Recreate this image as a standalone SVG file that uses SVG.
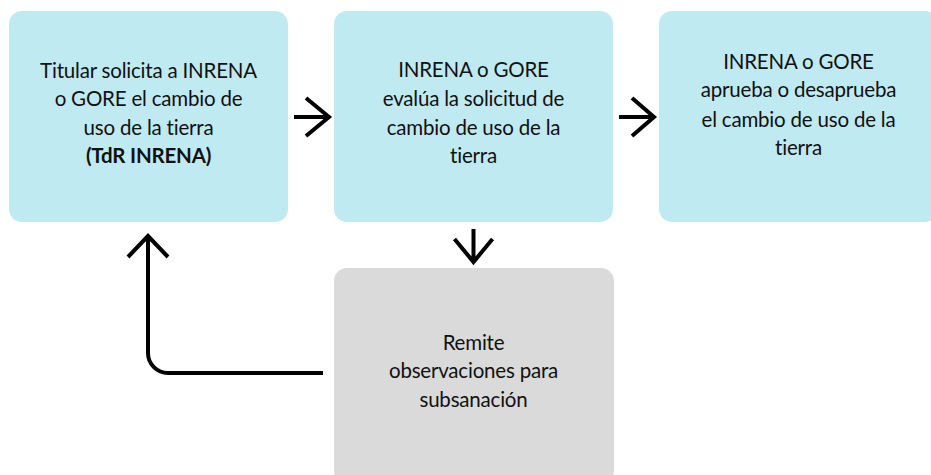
<svg xmlns="http://www.w3.org/2000/svg" width="931" height="475" viewBox="0 0 931 475">
<style>
.box{fill:#c0eaf1}
.grey{fill:#dadada}
.t{font-family:Lato,"Liberation Sans",sans-serif;font-size:20.5px;fill:#111;text-anchor:middle;letter-spacing:-0.2px}
.b{font-weight:bold}
.c{fill:none;stroke:#000;stroke-width:4;stroke-linecap:butt;stroke-linejoin:miter}
</style>
<rect width="931" height="475" fill="#fff"/>
<g id="n1">
<rect class="box" x="9" y="11" width="279" height="211" rx="13"/>
<text class="t" x="148.5" y="78">Titular solicita a INRENA</text>
<text class="t" x="148.5" y="106">o GORE el cambio de</text>
<text class="t" x="148.5" y="135">uso de la tierra</text>
<text class="t b" x="148.5" y="163">(TdR INRENA)</text>
</g>
<g id="n2">
<rect class="box" x="334" y="11" width="279" height="211" rx="13"/>
<text class="t" x="473.5" y="77">INRENA o GORE</text>
<text class="t" x="473.5" y="106">evalúa la solicitud de</text>
<text class="t" x="473.5" y="135">cambio de uso de la</text>
<text class="t" x="473.5" y="163">tierra</text>
</g>
<g id="n3">
<rect class="box" x="659" y="11" width="279" height="211" rx="13"/>
<text class="t" x="798.5" y="69">INRENA o GORE</text>
<text class="t" x="798.5" y="97">aprueba o desaprueba</text>
<text class="t" x="798.5" y="127">el cambio de uso de la</text>
<text class="t" x="798.5" y="155">tierra</text>
</g>
<g id="n4">
<rect class="grey" x="334" y="268" width="280" height="216" rx="13"/>
<text class="t" x="473.5" y="350">Remite</text>
<text class="t" x="473.5" y="378">observaciones para</text>
<text class="t" x="473.5" y="407">subsanación</text>
</g>
<g id="connectors">
<path class="c" d="M294 117H329M306 98L329 117L306 136"/>
<path class="c" d="M619 117H654M632 98L654 117L632 136"/>
<path class="c" d="M473.5 229V262M454.5 239L473.5 262L492.5 239"/>
<path class="c" stroke-linecap="round" d="M323 373H168A20 20 0 0 1 148 353V235"/>
<path class="c" d="M128 257L148 236L168 257"/>
</g>
</svg>
